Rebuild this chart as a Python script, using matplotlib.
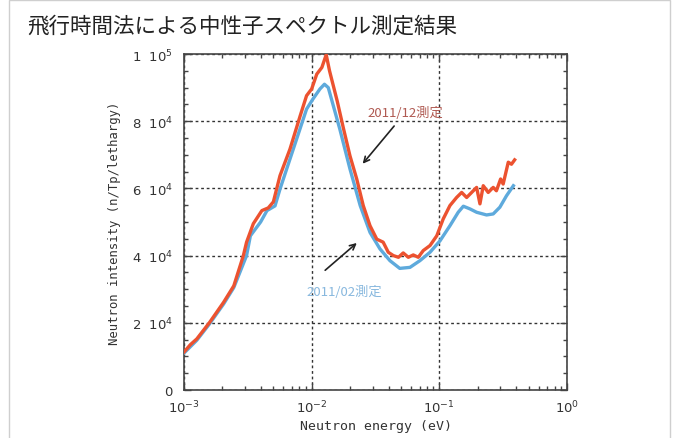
import matplotlib.pyplot as plt
from matplotlib.patches import Rectangle
from matplotlib.ticker import FixedLocator, LogLocator, MultipleLocator, NullFormatter

plt.rcParams['font.family'] = ['DejaVu Sans', 'Noto Sans CJK JP']
jp = ['Noto Sans CJK JP', 'DejaVu Sans']

# 2011/12 measurement (red)
dec_energy = [0.001000, 0.001122, 0.001259, 0.001585, 0.002042, 0.002455, 0.002917, 0.003090,
              0.003491, 0.004074, 0.004571, 0.005012, 0.005649, 0.006761, 0.008128, 0.009120,
              0.01000, 0.01096, 0.01202, 0.01300, 0.01380, 0.01585, 0.01778, 0.01995,
              0.02254, 0.02535, 0.02864, 0.03236, 0.03631, 0.03981, 0.04365, 0.04786,
              0.05212, 0.05715, 0.06252, 0.06839, 0.07482, 0.08453, 0.09550, 0.1072,
              0.1211, 0.1365, 0.1496, 0.1637, 0.1791, 0.1959, 0.2080, 0.2208,
              0.2415, 0.2642, 0.2799, 0.3020, 0.3162, 0.3467, 0.3673, 0.3890]
dec_intensity = [1.13, 1.35, 1.52, 2.01, 2.61, 3.10, 4.00, 4.40,
                 4.95, 5.34, 5.42, 5.60, 6.38, 7.17, 8.16, 8.76,
                 8.96, 9.40, 9.60, 9.98, 9.50, 8.60, 7.77, 6.97,
                 6.28, 5.49, 4.89, 4.49, 4.40, 4.10, 4.00, 3.95,
                 4.08, 3.95, 4.02, 3.95, 4.15, 4.30, 4.59, 5.09,
                 5.49, 5.73, 5.88, 5.73, 5.88, 6.03, 5.54, 6.08,
                 5.88, 6.03, 5.93, 6.28, 6.13, 6.78, 6.72, 6.85]

# 2011/02 measurement (blue)
feb_energy = [0.001000, 0.001259, 0.001585, 0.002042, 0.002455, 0.003090, 0.003311, 0.003981,
              0.004467, 0.005164, 0.005649, 0.007178, 0.009120, 0.01023, 0.01161, 0.01259,
              0.01349, 0.01660, 0.01995, 0.02399, 0.02864, 0.03428, 0.04102, 0.04898,
              0.05888, 0.07047, 0.08453, 0.1012, 0.1211, 0.1406, 0.1542, 0.1738,
              0.1959, 0.2344, 0.2642, 0.2979, 0.3357, 0.3802]
feb_intensity = [1.10, 1.48, 1.97, 2.56, 3.05, 4.00, 4.59, 5.00,
                 5.34, 5.48, 5.98, 7.17, 8.36, 8.66, 8.96, 9.10,
                 9.00, 7.77, 6.58, 5.49, 4.69, 4.20, 3.85, 3.62,
                 3.65, 3.85, 4.10, 4.44, 4.89, 5.29, 5.47, 5.39,
                 5.29, 5.21, 5.24, 5.44, 5.78, 6.08]

y_ticks = [0, 20000, 40000, 60000, 80000, 100000]
y_labels = ['0', r'2 $\ 10^4$', r'4 $\ 10^4$', r'6 $\ 10^4$', r'8 $\ 10^4$', r'1 $\ 10^5$']

# annotation anchors (energy, intensity)
dec_text = (0.054, 82700)
dec_arrow = [(0.0457, 79200), (0.0243, 66700)]
feb_text = (0.0179, 29200)
feb_arrow = [(0.01228, 35100), (0.02344, 44300)]

red = '#ec5230'
blue = '#5eaadc'
ink = '#333333'

fig = plt.figure(figsize=(6.75, 4.39), dpi=100)
fig.patches.append(Rectangle((0.013, -0.02), 0.98, 1.017, transform=fig.transFigure,
                             fill=False, edgecolor='#cfcfcf', lw=1))
fig.text(0.041, 0.94, '飛行時間法による中性子スペクトル測定結果', fontsize=15.5,
         color='#222222', va='center', ha='left', family=jp)

ax = fig.add_axes([0.2726, 0.1093, 0.5674, 0.7654])
ax.plot(feb_energy, [v * 1e4 for v in feb_intensity], color=blue, lw=2.4, zorder=3)
ax.plot(dec_energy, [v * 1e4 for v in dec_intensity], color=red, lw=2.4, zorder=4)

ax.set_xscale('log')
ax.set_xlim(1e-3, 1)
ax.set_ylim(0, 100000)
ax.yaxis.set_major_locator(FixedLocator(y_ticks))
ax.set_yticklabels(y_labels)
ax.yaxis.set_minor_locator(MultipleLocator(5000))
ax.xaxis.set_major_locator(LogLocator(base=10))
ax.xaxis.set_minor_locator(LogLocator(base=10, subs=range(2, 10)))
ax.xaxis.set_minor_formatter(NullFormatter())

ax.tick_params(which='both', direction='in', top=True, right=True, colors='#444444',
               labelcolor=ink, labelsize=9.5)
ax.tick_params(which='major', length=5, width=1)
ax.tick_params(which='minor', length=3, width=1)
ax.tick_params(axis='y', pad=8)
ax.tick_params(axis='x', pad=6)
for s in ax.spines.values():
    s.set_color('#444444')
    s.set_linewidth(1.2)

ax.grid(True, which='major', color='#333333', lw=1, linestyle=(0, (2, 2)))

ax.set_xlabel('Neutron energy (eV)', fontsize=9.5, color=ink, labelpad=3,
              family='DejaVu Sans Mono')
ax.set_ylabel('Neutron intensity (n/Tp/lethargy)', fontsize=8.8, color=ink, labelpad=8,
              family='DejaVu Sans Mono')

ax.text(dec_text[0], dec_text[1], '2011/12測定', color='#b05a52', fontsize=9.5,
        ha='center', va='center', family=jp)
ax.text(feb_text[0], feb_text[1], '2011/02測定', color='#88b8de', fontsize=9.5,
        ha='center', va='center', family=jp)
ax.annotate('', xy=dec_arrow[1], xytext=dec_arrow[0],
            arrowprops=dict(arrowstyle='->', color='#222222', lw=1.2))
ax.annotate('', xy=feb_arrow[1], xytext=feb_arrow[0],
            arrowprops=dict(arrowstyle='->', color='#222222', lw=1.2))

fig.savefig('out.png', dpi=100)
